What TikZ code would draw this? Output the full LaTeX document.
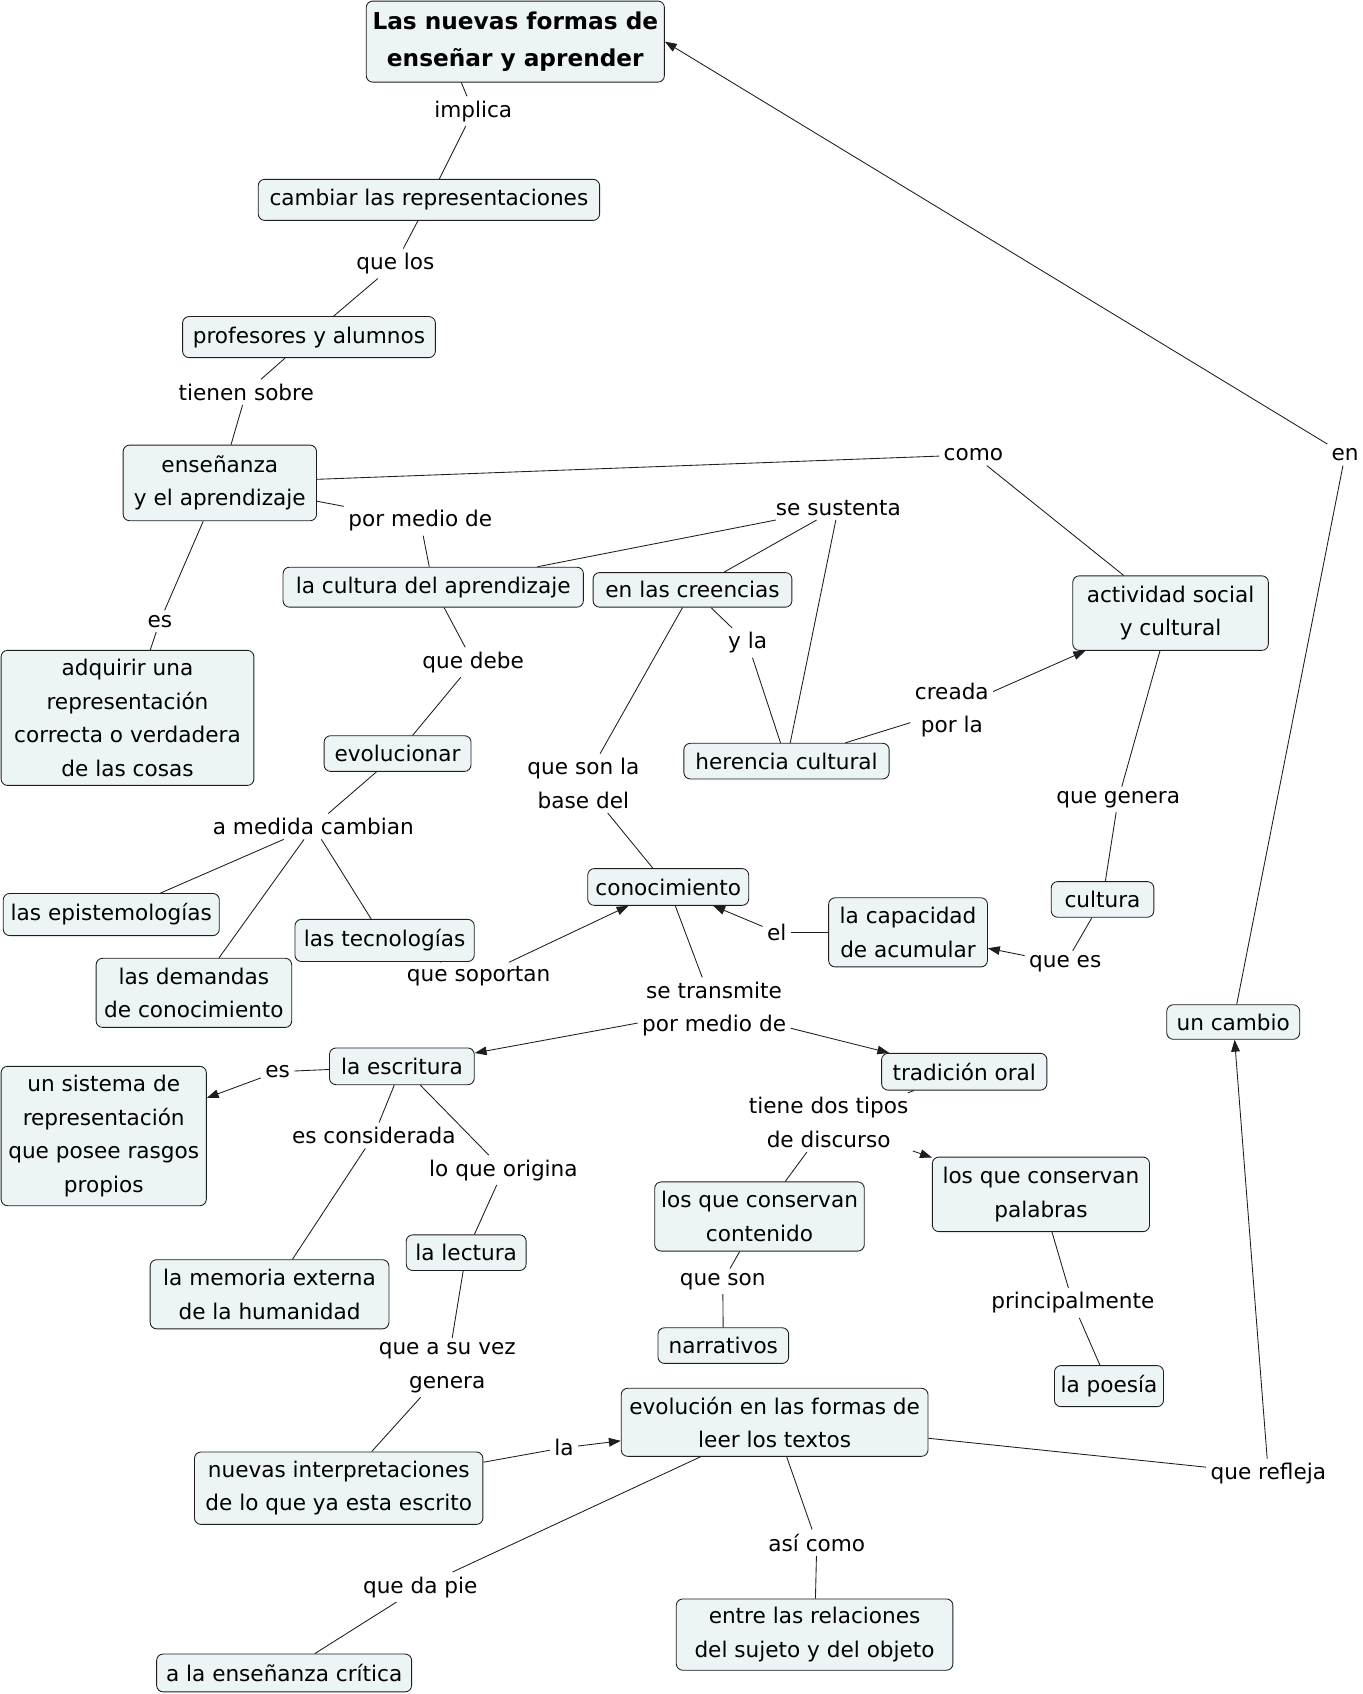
\documentclass[tikz,border=0pt]{standalone}
\usepackage{fontspec}
\setmainfont{DejaVu Sans}
\usetikzlibrary{arrows.meta}
\definecolor{cfill}{RGB}{237,244,246}
\definecolor{cline}{RGB}{30,30,30}
\tikzset{
  concept/.style={draw=cline, line width=0.8pt, fill=cfill, rounded corners=6pt,
    align=center, inner sep=2pt, font=\fontsize{20}{31}\selectfont},
  lbl/.style={align=center, inner sep=4pt, font=\fontsize{20}{31}\selectfont},
  link/.style={draw=cline, line width=0.8pt},
  arr/.style={link, -{Triangle[length=11pt,width=8pt]}}
}
\newcommand{\cbox}[5]{\node[concept, minimum width=#3pt, minimum height=#4pt] (#1) at (#2) {#5};}
\begin{document}
\begin{tikzpicture}[x=1pt,y=-1pt]
\useasboundingbox (0,0) rectangle (1261,1568);
% concepts
\node[concept, minimum width=276pt, minimum height=75pt, font=\fontsize{21.5}{35}\selectfont\bfseries] (title) at (477,38.5) {Las nuevas formas de\\enseñar y aprender};
\cbox{cambiar}{397,185}{316}{38}{cambiar las representaciones}
\cbox{prof}{286,312}{234}{38}{profesores y alumnos}
\cbox{ensen}{203.5,447}{179}{70}{enseñanza\\y el aprendizaje}
\cbox{adq}{118,664.5}{234}{125}{adquirir una\\representación\\correcta o verdadera\\de las cosas}
\cbox{cultap}{401,543.5}{278}{37}{la cultura del aprendizaje}
\cbox{creen}{641,546}{184}{32}{en las creencias}
\cbox{activ}{1083.5,567.5}{181}{69}{actividad social\\y cultural}
\cbox{evol}{368,697.5}{136}{33}{evolucionar}
\cbox{heren}{728,704.5}{190}{33}{herencia cultural}
\cbox{epist}{103,846.5}{200}{39}{las epistemologías}
\cbox{tecno}{356,870.5}{166}{39}{las tecnologías}
\cbox{demand}{179.5,919}{181}{64}{las demandas\\de conocimiento}
\cbox{conoc}{618.5,821}{149}{34}{conocimiento}
\cbox{capac}{840.5,863}{147}{64}{la capacidad\\de acumular}
\cbox{cultura}{1020.5,832.5}{95}{33}{cultura}
\cbox{cambio}{1141.5,946}{123}{32}{un cambio}
\cbox{escrit}{372,987}{134}{34}{la escritura}
\cbox{trad}{892.5,992}{153}{34}{tradición oral}
\cbox{sistema}{96,1051.5}{190}{129}{un sistema de\\representación\\que posee rasgos\\propios}
\cbox{contenido}{703,1126}{194}{64}{los que conservan\\contenido}
\cbox{palabras}{963.5,1105.5}{201}{69}{los que conservan\\palabras}
\cbox{lectura}{431.5,1159.5}{111}{33}{la lectura}
\cbox{memoria}{249.5,1198}{221}{64}{la memoria externa\\de la humanidad}
\cbox{narr}{669.5,1245.5}{121}{33}{narrativos}
\cbox{poesia}{1026.5,1283}{101}{38}{la poesía}
\cbox{evoltex}{717,1316.5}{284}{63}{evolución en las formas de\\leer los textos}
\cbox{nuevas}{313.5,1377.5}{267}{67}{nuevas interpretaciones\\de lo que ya esta escrito}
\cbox{entre}{754,1513}{256}{66}{entre las relaciones\\del sujeto y del objeto}
\cbox{critica}{263,1548.5}{236}{35}{a la enseñanza crítica}
% linking phrases
\node[lbl] (l_implica) at (438,103) {implica};
\node[lbl] (l_quelos) at (366,244) {que los};
\node[lbl] (l_tienen) at (228,363) {tienen sobre};
\node[lbl] (l_como) at (901,421) {como};
\node[lbl] (l_en) at (1245,421) {en};
\node[lbl] (l_pormedio) at (389,482) {por medio de};
\node[lbl] (l_sustenta) at (776,470) {se sustenta};
\node[lbl] (l_es1) at (148,575) {es};
\node[lbl] (l_debe) at (438,613) {que debe};
\node[lbl] (l_yla) at (692,595) {y la};
\node[lbl] (l_creada) at (881,657) {creada\\por la};
\node[lbl] (l_base) at (540,725) {que son la\\base del};
\node[lbl] (l_medida) at (290,765) {a medida cambian};
\node[lbl] (l_genera) at (1035,740) {que genera};
\node[lbl] (l_soportan) at (443,904) {que soportan};
\node[lbl] (l_el) at (719,863) {el};
\node[lbl] (l_quees) at (986,892) {que es};
\node[lbl] (l_transmite) at (661,934) {se transmite\\por medio de};
\node[lbl] (l_es2) at (257,992) {es};
\node[lbl] (l_considerada) at (346,1051) {es considerada};
\node[lbl] (l_origina) at (466,1083) {lo que origina};
\node[lbl] (l_tipos) at (767,1039) {tiene dos tipos\\de discurso};
\node[lbl] (l_queson) at (669,1186) {que son};
\node[lbl] (l_princ) at (993,1206) {principalmente};
\node[lbl] (l_suvez) at (414,1266) {que a su vez\\genera};
\node[lbl] (l_la) at (522,1340) {la};
\node[lbl] (l_refleja) at (1174,1364) {que refleja};
\node[lbl] (l_asi) at (756,1428) {así como};
\node[lbl] (l_dapie) at (389,1469) {que da pie};
% connectors
\draw[link] ([xshift=-50pt]title.south) -- (l_implica);
\draw[link] (l_implica) -- (cambiar);
\draw[link] (cambiar) -- (l_quelos);
\draw[link] (l_quelos) -- (prof);
\draw[link] (prof) -- (l_tienen);
\draw[link] (l_tienen) -- (ensen);
\draw[link] (ensen) -- (l_como);
\draw[link] (l_como) -- (activ);
\draw[link] (ensen) -- (l_pormedio);
\draw[link] (l_pormedio) -- (cultap);
\draw[link] (ensen) -- (l_es1);
\draw[link] (l_es1) -- (adq);
\draw[link] (cultap) -- (l_sustenta);
\draw[link] (l_sustenta) -- (creen);
\draw[link] (l_sustenta) -- (heren);
\draw[link] (creen) -- (l_yla);
\draw[link] (l_yla) -- (heren);
\draw[link] (cultap) -- (l_debe);
\draw[link] (l_debe) -- (evol);
\draw[link] (evol) -- (l_medida);
\draw[link] (l_medida) -- (epist);
\draw[link] (l_medida) -- (demand);
\draw[link] (l_medida) -- (tecno);
\draw[link] (creen) -- (l_base);
\draw[link] (l_base) -- (conoc);
\draw[link] (heren) -- (l_creada);
\draw[arr] (l_creada) -- (activ);
\draw[link] (activ) -- (l_genera);
\draw[link] (l_genera) -- (cultura);
\draw[link] (cultura) -- (l_quees);
\draw[arr] (l_quees) -- (capac);
\draw[link] (capac) -- (l_el);
\draw[arr] (l_el) -- (conoc);
\draw[link] (tecno) -- (l_soportan);
\draw[arr] (l_soportan) -- (conoc);
\draw[link] (conoc) -- (l_transmite);
\draw[arr] (l_transmite) -- (escrit);
\draw[arr] (l_transmite) -- (trad);
\draw[link] (escrit) -- (l_es2);
\draw[arr] (l_es2) -- (sistema);
\draw[link] (escrit) -- (l_considerada);
\draw[link] (l_considerada) -- (memoria);
\draw[link] (escrit) -- (l_origina);
\draw[link] (l_origina) -- (lectura);
\draw[link] (lectura) -- (l_suvez);
\draw[link] (l_suvez) -- (nuevas);
\draw[link] (nuevas) -- (l_la);
\draw[arr] (l_la) -- (evoltex);
\draw[link] (trad) -- (l_tipos);
\draw[arr] (l_tipos) -- (palabras);
\draw[link] (l_tipos) -- (contenido);
\draw[link] (contenido) -- (l_queson);
\draw[link] (l_queson) -- (narr);
\draw[link] (palabras) -- (l_princ);
\draw[link] (l_princ) -- (poesia);
\draw[link] (evoltex) -- (l_refleja);
\draw[arr] (l_refleja) -- (cambio);
\draw[link] (cambio) -- (l_en);
\draw[arr] (l_en) -- (title.east);
\draw[link] (evoltex) -- (l_asi);
\draw[link] (l_asi) -- (entre);
\draw[link] (evoltex) -- (l_dapie);
\draw[link] (l_dapie) -- (critica);
\end{tikzpicture}
\end{document}
